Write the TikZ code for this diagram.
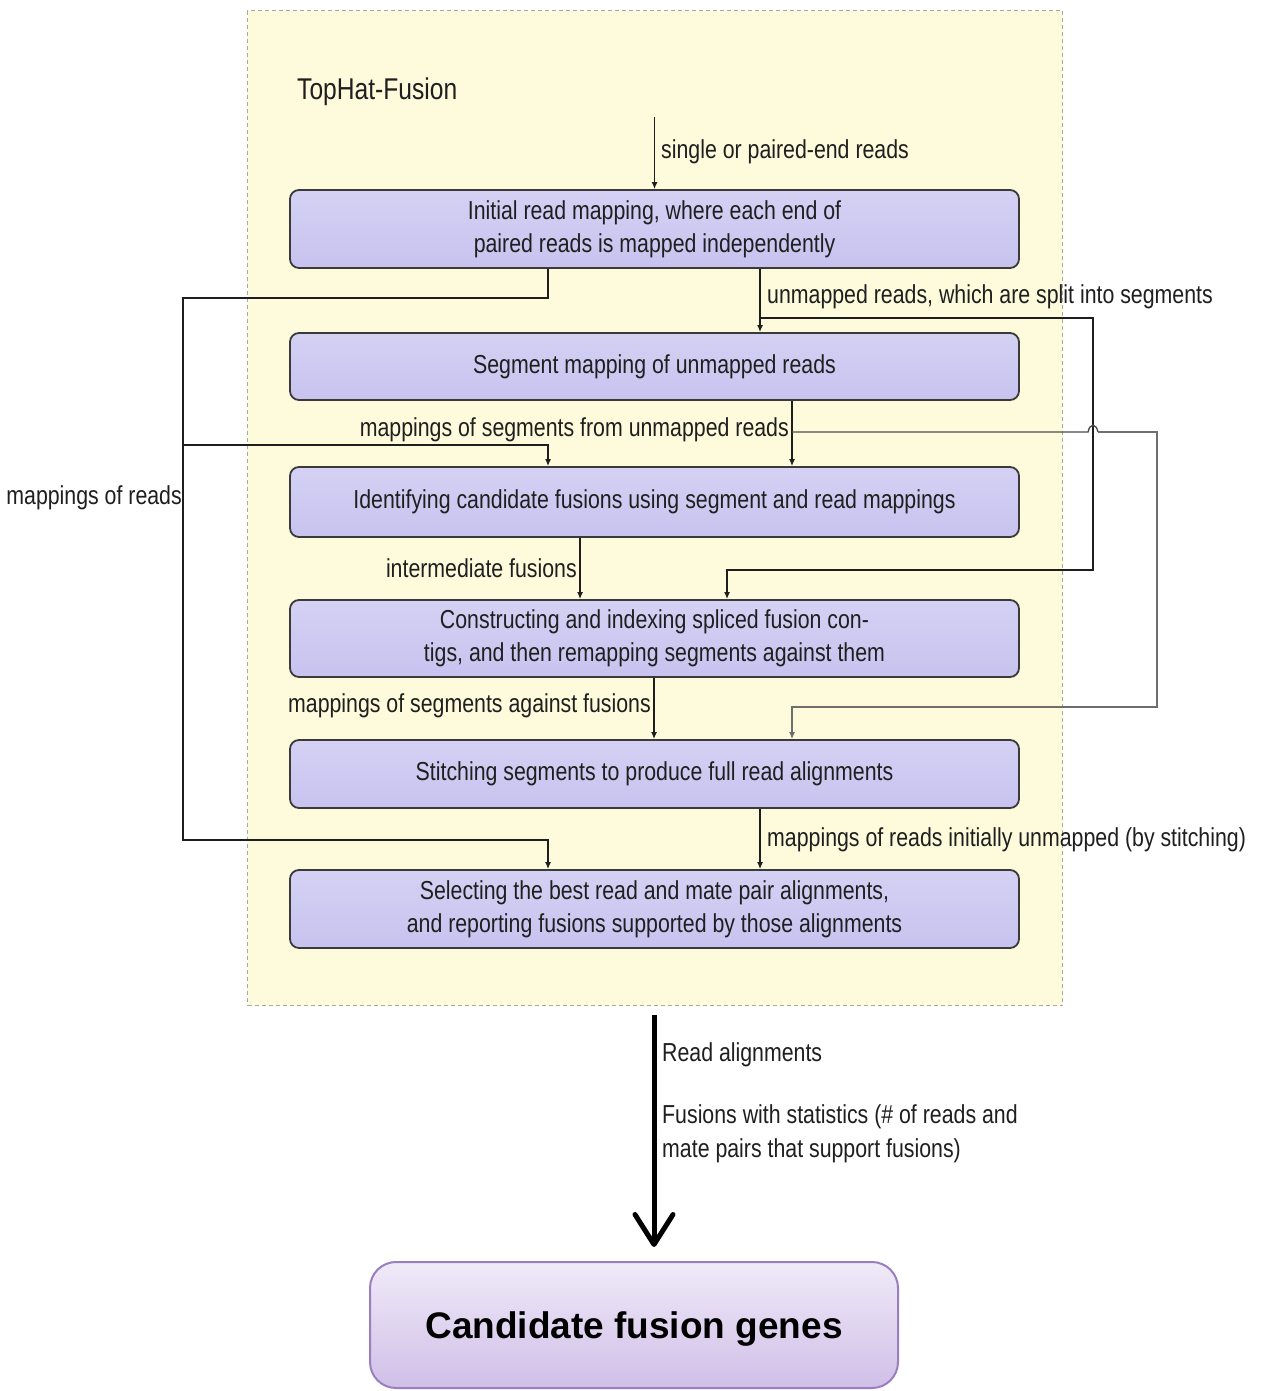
\documentclass[tikz,border=0pt]{standalone}
\usepackage{fontspec}
\setmainfont{Liberation Sans}
\newfontfamily\narrowfont[FakeStretch=0.82]{Liberation Sans}
\usetikzlibrary{arrows.meta}
\definecolor{panelfill}{HTML}{FDFBDB}
\definecolor{panelline}{HTML}{A8A8A0}
\definecolor{boxtop}{HTML}{D4D1F4}
\definecolor{boxbot}{HTML}{C7C3EF}
\definecolor{boxline}{HTML}{3A3A3A}
\definecolor{linec}{HTML}{1E1E1E}
\definecolor{grayc}{HTML}{6E6E6E}
\definecolor{finaltop}{HTML}{F0EAF8}
\definecolor{finalbot}{HTML}{D0BFE8}
\definecolor{finalline}{HTML}{9A7EBE}
\begin{document}
\begin{tikzpicture}[x=1pt,y=-1pt,
  stepbox/.style={draw=boxline, line width=1.8pt, rounded corners=9pt,
    top color=boxtop, bottom color=boxbot, minimum width=729pt,
    align=center, inner sep=0pt,
    font=\narrowfont\fontsize{26}{33}\selectfont, text=black!88},
  lbl/.style={inner sep=0pt, font=\narrowfont\fontsize{26}{34}\selectfont, text=black!88},
  wire/.style={draw=linec, line width=1.4pt},
  flow/.style={wire, -{Latex[length=7pt,width=6pt]}},
  bigarrow/.style={draw=black, line width=5pt,
    -{Straight Barb[length=30pt,width=38pt,line cap=round,line join=round]}},
  finalbox/.style={draw=finalline, line width=2pt, rounded corners=26pt,
    top color=finaltop, bottom color=finalbot, inner sep=0pt}]
\useasboundingbox (0,0) rectangle (1263,1391);
\fill[white] (0,0) rectangle (1263,1391);

% yellow panel holding the pipeline
\node[draw=panelline, dash pattern=on 4pt off 3pt, line width=1.3pt, fill=panelfill, anchor=north west,
  minimum width=815pt, minimum height=995pt, inner sep=0pt] (panel) at (247,10) {};
\node[lbl, anchor=west, font=\narrowfont\fontsize{30}{34}\selectfont] (title) at (297,92) {TopHat-Fusion};

% pipeline steps
\node[stepbox, minimum height=78pt] (b1) at (654.5,229)
  {Initial read mapping, where each end of\\paired reads is mapped independently};
\node[stepbox, minimum height=67pt] (b2) at (654.5,366.5)
  {Segment mapping of unmapped reads};
\node[stepbox, minimum height=70pt] (b3) at (654.5,502)
  {Identifying candidate fusions using segment and read mappings};
\node[stepbox, minimum height=77pt] (b4) at (654.5,638.5)
  {Constructing and indexing spliced fusion con-\\tigs, and then remapping segments against them};
\node[stepbox, minimum height=68pt] (b5) at (654.5,774)
  {Stitching segments to produce full read alignments};
\node[stepbox, minimum height=78pt] (b6) at (654.5,909)
  {Selecting the best read and mate pair alignments,\\and reporting fusions supported by those alignments};

% input reads
\coordinate (src) at (654.5,117);
\draw[flow] (src) -- (b1.north);
\node[lbl, anchor=west] (lsingle) at (661,152) {single or paired-end reads};

% mapped reads loop on the left
\coordinate (l1) at (548,298);
\coordinate (l2) at (183,298);
\coordinate (l3) at (183,840);
\coordinate (l4) at (548,840);
\coordinate (l5) at (183,445);
\coordinate (l6) at (548,445);
\draw[flow] (b1.south -| l1) -- (l1) -- (l2) -- (l3) -- (l4) -- (l4 |- b6.north);
\draw[flow] (l5) -- (l6) -- (l6 |- b3.north);
\node[lbl, anchor=east] (lreads) at (182,498) {mappings of reads};

% unmapped reads split into segments
\coordinate (u1) at (760,318);
\coordinate (u2) at (1093,318);
\coordinate (u3) at (1093,570);
\coordinate (u4) at (727,570);
\draw[flow] (b1.south -| u1) -- (u1 |- b2.north);
\draw[flow] (u1) -- (u2) -- (u3) -- (u4) -- (u4 |- b4.north);
\node[lbl, anchor=west] (lunmapped) at (767,297) {unmapped reads, which are split into segments};

% segment mappings
\coordinate (s1) at (792,432);
\coordinate (s2) at (1088,432);
\coordinate (s3) at (1098,432);
\coordinate (s4) at (1157,432);
\coordinate (s5) at (1157,707);
\coordinate (s6) at (792,707);
\draw[flow] (b2.south -| s1) -- (s1 |- b3.north);
\draw[wire, draw=black!70] (s1) -- (s2) .. controls (1090,423) and (1096,423) .. (s3);
\draw[flow, draw=grayc] (s3) -- (s4) -- (s5) -- (s6) -- (s6 |- b5.north);
\node[lbl, anchor=east] (lsegs) at (789,430) {mappings of segments from unmapped reads};

% intermediate fusions
\coordinate (f1) at (580,0);
\draw[flow] (b3.south -| f1) -- (f1 |- b4.north);
\node[lbl, anchor=east] (linter) at (577,568) {intermediate fusions};

% segments against fusions
\coordinate (g1) at (654,0);
\draw[flow] (b4.south -| g1) -- (g1 |- b5.north);
\node[lbl, anchor=east] (lagainst) at (651,706) {mappings of segments against fusions};

% stitched reads
\coordinate (t1) at (760,0);
\draw[flow] (b5.south -| t1) -- (t1 |- b6.north);
\node[lbl, anchor=west] (lstitch) at (767,840) {mappings of reads initially unmapped (by stitching)};

% output
\node[finalbox, minimum width=528pt, minimum height=126pt] (final) at (634,1325) {};
\node[font=\bfseries\fontsize{37}{44}\selectfont, inner sep=0pt] (finaltext) at (634,1329) {Candidate fusion genes};
\coordinate (outtop) at (654,1015);
\coordinate (outend) at (654,1247);
\draw[bigarrow] (outtop) -- (outend);
\node[lbl, anchor=west] (lalign) at (662,1055) {Read alignments};
\node[lbl, anchor=west, align=left] (lstats) at (662,1134)
  {Fusions with statistics (\# of reads and\\mate pairs that support fusions)};
\end{tikzpicture}
\end{document}
